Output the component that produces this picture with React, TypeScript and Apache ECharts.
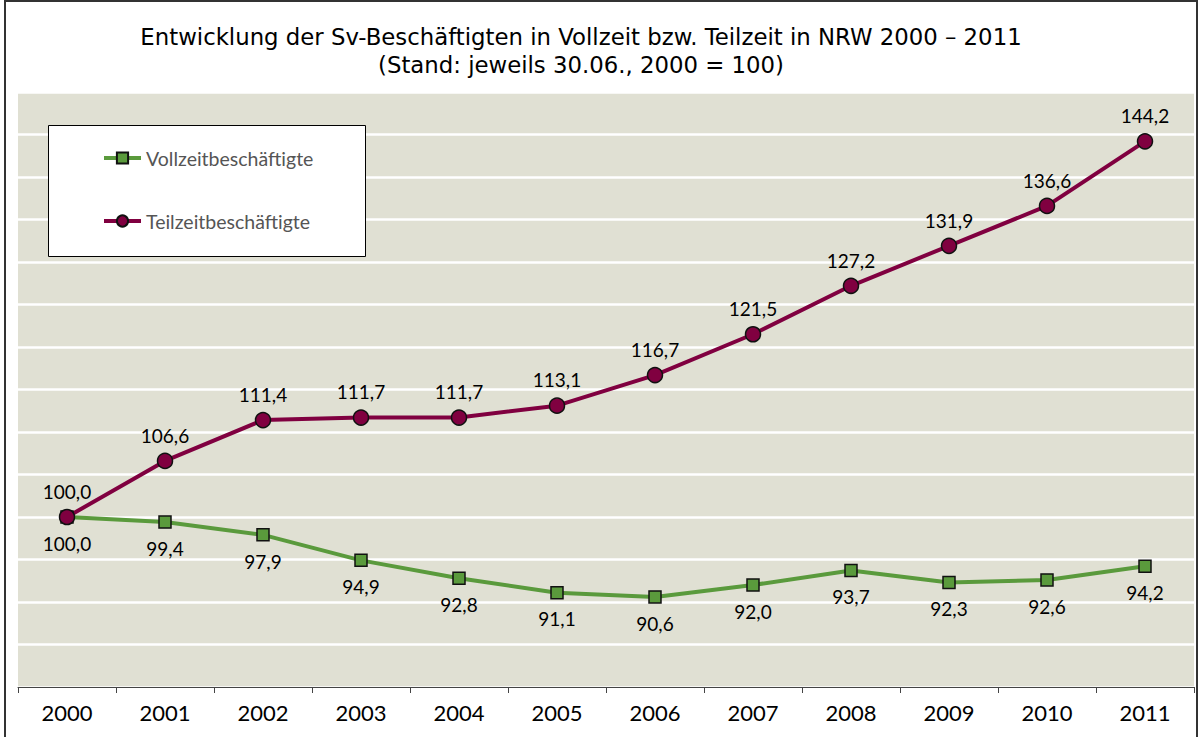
import React, { useEffect, useRef } from "react";
import * as echarts from "echarts";

const years = ["2000", "2001", "2002", "2003", "2004", "2005", "2006", "2007", "2008", "2009", "2010", "2011"];
const vollzeit = [100.0, 99.4, 97.9, 94.9, 92.8, 91.1, 90.6, 92.0, 93.7, 92.3, 92.6, 94.2];
const teilzeit = [100.0, 106.6, 111.4, 111.7, 111.7, 113.1, 116.7, 121.5, 127.2, 131.9, 136.6, 144.2];
const titleLine1 = "Entwicklung der Sv-Beschäftigten in Vollzeit bzw. Teilzeit in NRW 2000 – 2011";
const titleLine2 = "(Stand: jeweils 30.06., 2000 = 100)";

const fmt = (p: any) => Number(p.value).toFixed(1).replace(".", ",");

export default function App() {
  const ref = useRef<HTMLDivElement>(null);
  useEffect(() => {
    if (!ref.current) return;
    const chart = echarts.init(ref.current, undefined, { renderer: "svg" });
    const labelFont = "Lato, 'DejaVu Sans', sans-serif";
    const titleFont = "'DejaVu Sans', sans-serif";
    chart.setOption({
      animation: false,
      backgroundColor: "#ffffff",
      grid: {
        left: 18,
        right: 6,
        top: 92,
        bottom: 50,
        show: true,
        backgroundColor: "#E0E0D3",
        borderWidth: 0,
      },
      graphic: [
        {
          type: "rect",
          z: 0,
          shape: { x: 5, y: 1, width: 1192, height: 745 },
          style: { fill: "none", stroke: "#333333", lineWidth: 2 },
          silent: true,
        },
        {
          type: "text",
          x: 581,
          y: 37,
          z: 10,
          style: {
            text: titleLine1,
            fontFamily: titleFont,
            fontSize: 22.8,
            fill: "#000",
            align: "center",
            verticalAlign: "middle",
          },
        },
        {
          type: "text",
          x: 581,
          y: 65,
          z: 10,
          style: {
            text: titleLine2,
            fontFamily: titleFont,
            fontSize: 22.8,
            fill: "#000",
            align: "center",
            verticalAlign: "middle",
          },
        },
        {
          type: "rect",
          z: 8,
          shape: { x: 48.5, y: 125.5, width: 317, height: 131 },
          style: { fill: "#ffffff", stroke: "#000000", lineWidth: 1 },
        },
      ],
      legend: {
        left: 97,
        top: 143,
        orient: "vertical",
        z: 12,
        itemWidth: 37,
        itemHeight: 14,
        itemGap: 43,
        lineStyle: { width: 4 },
        textStyle: {
          fontFamily: labelFont,
          fontSize: 19.5,
          color: "#555555",
          lineHeight: 20,
        },
        data: ["Vollzeitbeschäftigte", "Teilzeitbeschäftigte"],
      },
      xAxis: {
        type: "category",
        data: years,
        boundaryGap: true,
        axisLine: { show: true, lineStyle: { color: "#444", width: 1 } },
        axisTick: { show: true, length: 6, lineStyle: { color: "#444" } },
        axisLabel: {
          margin: 14,
          fontFamily: labelFont,
          fontSize: 22,
          color: "#000",
        },
        splitLine: { show: false },
      },
      yAxis: {
        type: "value",
        min: 80,
        max: 150,
        interval: 5,
        axisLine: { show: false },
        axisTick: { show: false },
        axisLabel: { show: false },
        splitLine: { show: true, lineStyle: { color: "#ffffff", width: 2.5 } },
      },
      series: [
        {
          name: "Vollzeitbeschäftigte",
          type: "line",
          data: vollzeit,
          symbol: "rect",
          symbolSize: 12,
          lineStyle: { color: "#5A9A3C", width: 4 },
          itemStyle: { color: "#5A9A3C", borderColor: "#111", borderWidth: 1.5 },
          label: {
            show: true,
            position: "bottom",
            distance: 10,
            formatter: fmt,
            fontFamily: labelFont,
            fontSize: 19,
            color: "#000",
          },
        },
        {
          name: "Teilzeitbeschäftigte",
          type: "line",
          data: teilzeit,
          symbol: "circle",
          symbolSize: 15,
          lineStyle: { color: "#800040", width: 4 },
          itemStyle: { color: "#800040", borderColor: "#111", borderWidth: 1.5 },
          label: {
            show: true,
            position: "top",
            distance: 8,
            formatter: fmt,
            fontFamily: labelFont,
            fontSize: 19,
            color: "#000",
          },
        },
      ],
    });
    return () => chart.dispose();
  }, []);
  return (
    <div
      ref={ref}
      style={{ position: "fixed", left: 0, top: 0, width: 1200, height: 737 }}
    />
  );
}
